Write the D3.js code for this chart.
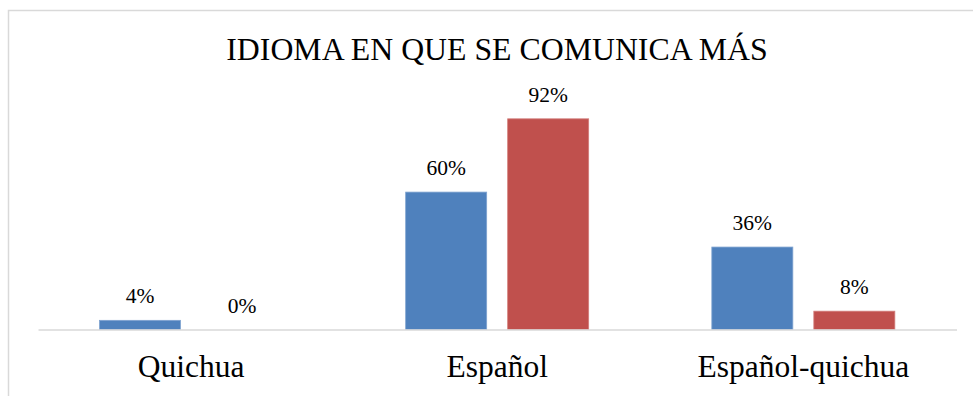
<!DOCTYPE html>
<html>
<head>
<meta charset="utf-8">
<script src="https://cdn.jsdelivr.net/npm/d3@7"></script>
<style>
  body { margin: 0; background: #fff; }
</style>
</head>
<body>
<div id="chart"></div>
<script>
// data
var categories = ["Quichua", "Español", "Español-quichua"];
var seriesNames = ["Serie 1", "Serie 2"];
var serie1 = [4, 60, 36];
var serie2 = [0, 92, 8];
var colors = ["#4F81BD", "#C0504D"];
var edges = ["#7FA3D0", "#D27E7B"];

var serif = "'Liberation Serif', 'Times New Roman', Times, serif";

var width = 973,
    height = 396,
    baseY = 329.5;

var svg = d3.select("#chart").append("svg")
    .attr("width", width)
    .attr("height", height);

// chart border (runs off the right and bottom of the window)
svg.append("rect")
    .attr("x", 8.5)
    .attr("y", 10.5)
    .attr("width", 1000)
    .attr("height", 420)
    .attr("fill", "none")
    .attr("stroke", "#d9d9d9")
    .attr("stroke-width", 1.5);

// scales
var x0 = d3.scaleBand()
    .domain(categories)
    .range([38, 956.5]);

var x1 = d3.scaleBand()
    .domain(seriesNames)
    .range([61.5, 244.5])
    .paddingInner(21 / 102);

var yScale = d3.scaleLinear()
    .domain([0, 100])
    .range([baseY, baseY - 229]);

// title
svg.append("text")
    .attr("x", 497)
    .attr("y", 60)
    .attr("text-anchor", "middle")
    .style("font-family", serif)
    .style("font-size", "31.8px")
    .attr("fill", "#000")
    .text("IDIOMA EN QUE SE COMUNICA MÁS");

// bars
var rows = categories.map(function (c, i) {
    return { cat: c, values: [serie1[i], serie2[i]] };
});

var groups = svg.selectAll(".grp")
    .data(rows)
    .enter().append("g")
    .attr("class", "grp")
    .attr("transform", function (d) { return "translate(" + x0(d.cat) + ",0)"; });

groups.selectAll("rect")
    .data(function (d) { return d.values; })
    .enter().append("rect")
    .attr("x", function (d, i) { return x1(seriesNames[i]); })
    .attr("y", function (d) { return yScale(d); })
    .attr("width", x1.bandwidth())
    .attr("height", function (d) { return baseY - yScale(d); })
    .attr("fill", function (d, i) { return colors[i]; })
    .attr("stroke", function (d, i) { return d > 0 ? edges[i] : "none"; })
    .attr("stroke-width", 0.8);

// value labels
groups.selectAll(".val")
    .data(function (d) { return d.values; })
    .enter().append("text")
    .attr("class", "val")
    .attr("x", function (d, i) { return x1(seriesNames[i]) + x1.bandwidth() / 2; })
    .attr("y", function (d) { return yScale(d) - 17; })
    .attr("text-anchor", "middle")
    .style("font-family", serif)
    .style("font-size", "21.5px")
    .attr("fill", "#000")
    .text(function (d) { return d + "%"; });

// x axis
var xAxis = svg.append("g")
    .attr("transform", "translate(0," + baseY + ")")
    .call(d3.axisBottom(x0).tickSize(0).tickPadding(30));

xAxis.select(".domain")
    .attr("stroke", "#d9d9d9")
    .attr("stroke-width", 1.5);

xAxis.selectAll(".tick text")
    .attr("dy", 0)
    .attr("y", 47.5)
    .style("font-family", serif)
    .style("font-size", "31.5px")
    .attr("fill", "#000");
</script>
</body>
</html>
